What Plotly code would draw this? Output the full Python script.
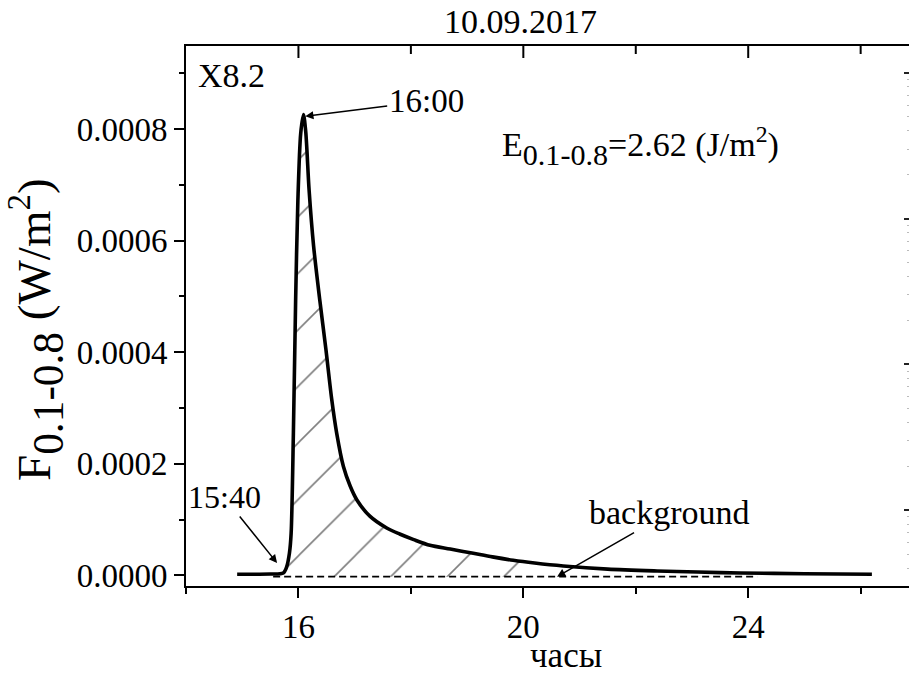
import plotly.graph_objects as go

# ---- data ----
hours = [14.91, 15.20, 15.50, 15.73, 15.79, 15.84, 15.87, 15.91, 15.95, 15.99,
         16.04, 16.09, 16.13, 16.19, 16.27, 16.38, 16.49, 16.59, 16.68, 16.80,
         16.92, 17.04, 17.27, 17.57, 17.80, 18.05, 18.34, 18.70, 19.11, 19.45,
         19.82, 20.20, 20.71, 21.50, 22.38, 23.10, 23.86, 25.00, 26.20]
flux = [0.0000020, 0.0000020, 0.0000022, 0.0000040, 0.0000150, 0.0000400, 0.0000750,
        0.0002540, 0.0004930, 0.0006720, 0.0007920, 0.0008260, 0.0007950, 0.0006900,
        0.0005900, 0.0004930, 0.0004040, 0.0003170, 0.0002550, 0.0001950, 0.0001600,
        0.0001350, 0.0001060, 0.0000848, 0.0000740, 0.0000640, 0.0000537, 0.0000470,
        0.0000394, 0.0000330, 0.0000269, 0.0000220, 0.0000167, 0.0000110, 0.0000077,
        0.0000058, 0.0000041, 0.0000028, 0.0000018]
bg_hours = [15.55, 24.16]
bg_level = [-0.0000025, -0.0000025]
hatch_start, hatch_end = 15.79, 20.71

x_range = [14.0, 26.86]
y_range = [-0.0000192, 0.000949]
x_major = [16, 20, 24]
x_minor = [14, 18, 22, 26]
y_major = [0.0, 0.0002, 0.0004, 0.0006, 0.0008]
y_minor = [0.0001, 0.0003, 0.0005, 0.0007, 0.0009]

title_text = "10.09.2017"
class_text = "X8.2"
peak_text = "16:00"
start_text = "15:40"
bg_text = "background"
energy_text = ("E<span style='font-size:43px'><sub>0.1-0.8</sub></span>"
               "=2.62 (J/m<sup>2</sup>)")
y_title = ("F<span style='font-size:62px'><sub>0.1-0.8</sub></span>"
           " (W/m<sup>2</sup>)")
x_title = "часы"

FONT = "Liberation Serif, Times New Roman, serif"

# hatched region polygon built from the data
hx = [h for h in hours if hatch_start <= h <= hatch_end]
hy = [f for h, f in zip(hours, flux) if hatch_start <= h <= hatch_end]
poly_x = hx + [hx[-1], hx[0], hx[0]]
poly_y = hy + [bg_level[0], bg_level[0], hy[0]]

fig = go.Figure()
fig.add_trace(go.Scatter(
    x=poly_x, y=poly_y, mode="lines", fill="toself",
    line=dict(width=0, color="rgba(0,0,0,0)"),
    fillcolor="rgba(0,0,0,0)",
    fillpattern=dict(shape="/", size=40, solidity=0.04, fgcolor="black",
                     bgcolor="rgba(255,255,255,0)"),
    hoverinfo="skip", showlegend=False))
fig.add_trace(go.Scatter(
    x=bg_hours, y=bg_level, mode="lines",
    line=dict(color="black", width=1.8, dash="7px,4px"),
    showlegend=False))
fig.add_trace(go.Scatter(
    x=hours, y=flux, mode="lines",
    line=dict(color="black", width=3.6, shape="spline", smoothing=0.8),
    showlegend=False))

W, H = 910, 677
L, R, T, B = 186, 1, 46, 91
pw, ph = W - L - R, H - T - B

def px(xp):
    return (xp - L) / pw

def py(yp):
    return (H - B - yp) / ph

tickfont = dict(family=FONT, size=33, color="black")

fig.update_layout(
    width=W, height=H,
    margin=dict(l=L, r=R, t=T, b=B),
    paper_bgcolor="white", plot_bgcolor="white",
    showlegend=False,
    xaxis=dict(range=x_range, showgrid=False, zeroline=False,
               showline=True, mirror=True, linecolor="black", linewidth=2,
               tickmode="array", tickvals=x_major, ticktext=[str(v) for v in x_major],
               ticks="outside", ticklen=10, tickwidth=2, tickcolor="black",
               minor=dict(tickmode="array", tickvals=x_minor,
                          ticks="outside", ticklen=6, tickwidth=2, tickcolor="black"),
               tickfont=tickfont),
    yaxis=dict(range=y_range, showgrid=False, zeroline=False,
               showline=True, linecolor="black", linewidth=2,
               tickmode="array", tickvals=y_major,
               ticktext=[f"{v:.4f}" for v in y_major],
               ticks="outside", ticklen=10, tickwidth=2, tickcolor="black",
               minor=dict(tickmode="array", tickvals=y_minor,
                          ticks="outside", ticklen=5, tickwidth=2, tickcolor="black"),
               tickfont=tickfont),
    yaxis2=dict(type="log", range=[-5.52, -1.816], overlaying="y", side="right",
                anchor="x", showgrid=False, zeroline=False, showticklabels=False,
                showline=False, dtick=1,
                ticks="inside", ticklen=5, tickwidth=2, tickcolor="#222",
                minor=dict(ticks="inside", ticklen=2, tickwidth=1, tickcolor="#bbb")),
)

# invisible trace so the right (log) axis is drawn
fig.add_trace(go.Scatter(x=[hours[0]], y=[1e-4], xaxis="x", yaxis="y2",
                         mode="markers", marker=dict(opacity=0), hoverinfo="skip",
                         showlegend=False))

# top-edge ticks pointing into the plot, at the same tick values as the x axis
for vals, ln in ((x_major, 12), (x_minor[1:], 8)):
    for v in vals:
        fig.add_shape(type="line", xref="x", yref="paper",
                      x0=v, x1=v, y0=1, y1=1 - ln / ph,
                      line=dict(color="black", width=2), layer="above")

txt = dict(family=FONT, color="black")
ann = []
ann.append(dict(text=title_text, x=px(520), y=py(22), xref="paper", yref="paper",
                showarrow=False, font=dict(txt, size=34), xanchor="center", yanchor="middle"))
ann.append(dict(text=class_text, x=px(196), y=py(75), xref="paper", yref="paper",
                showarrow=False, font=dict(txt, size=34), xanchor="left", yanchor="middle"))
ann.append(dict(text=energy_text, x=px(500), y=py(146), xref="paper", yref="paper",
                showarrow=False, font=dict(txt, size=34), xanchor="left", yanchor="middle"))
ann.append(dict(text=peak_text, x=hours[11] + 0.03, y=flux[11] - 0.000003,
                xref="x", yref="y", ax=121, ay=-15, axref="pixel", ayref="pixel",
                showarrow=True, arrowhead=2, arrowsize=1.1, arrowwidth=1.5,
                arrowcolor="black", font=dict(txt, size=33)))
ann.append(dict(text=start_text, x=15.62, y=0.000022,
                xref="x", yref="y", ax=-53, ay=-66,
                showarrow=True, arrowhead=2, arrowsize=1.1, arrowwidth=1.5,
                arrowcolor="black", font=dict(txt, size=32)))
ann.append(dict(text=bg_text, x=20.60, y=bg_level[0],
                xref="x", yref="y", ax=112, ay=-64,
                showarrow=True, arrowhead=2, arrowsize=1.1, arrowwidth=1.5,
                arrowcolor="black", font=dict(txt, size=34)))
ann.append(dict(text=y_title, x=px(36), y=py(330), xref="paper", yref="paper",
                showarrow=False, textangle=-90, font=dict(txt, size=47),
                xanchor="center", yanchor="middle"))
ann.append(dict(text=x_title, x=px(566), y=py(677), xref="paper", yref="paper",
                showarrow=False, font=dict(txt, size=35),
                xanchor="center", yanchor="bottom"))
fig.update_layout(annotations=ann)

fig.write_html("out.html")
